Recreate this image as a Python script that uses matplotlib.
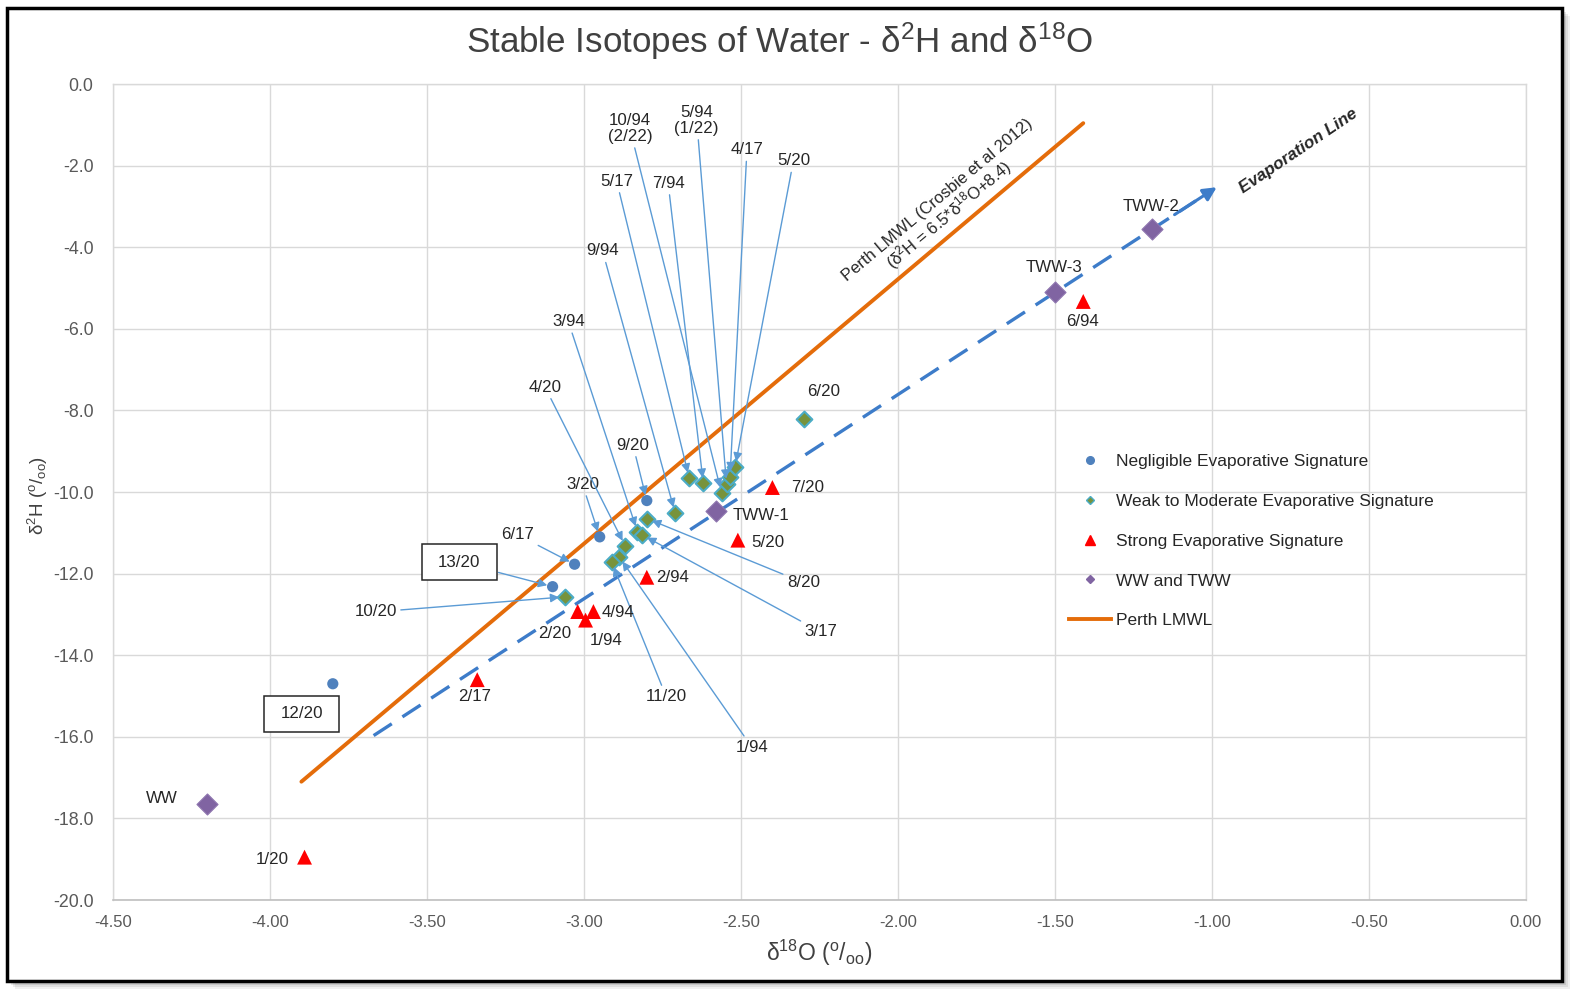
import matplotlib
matplotlib.use('Agg')
import matplotlib.pyplot as plt
from matplotlib.patches import Rectangle
from matplotlib.lines import Line2D
from matplotlib.path import Path

plt.rcParams['font.family'] = ['Liberation Sans', 'DejaVu Sans']
plt.rcParams['mathtext.fontset'] = 'custom'
plt.rcParams['mathtext.rm'] = 'Liberation Sans'
plt.rcParams['mathtext.it'] = 'Liberation Sans:italic'
plt.rcParams['mathtext.bf'] = 'Liberation Sans:bold'

# ---------------- data ----------------
neg_x = [-3.80, -3.03, -3.10, -2.95, -2.80]
neg_y = [-14.70, -11.77, -12.32, -11.10, -10.21]
neg_labels = ['12/20', '6/17', '13/20', '3/20', '9/20']

weak_x = [-2.30, -2.665, -2.62, -2.562, -2.546, -2.535, -2.519, -2.71, -2.80,
          -2.83, -2.815, -2.869, -2.888, -2.912, -3.061]
weak_y = [-8.20, -9.66, -9.79, -10.02, -9.81, -9.63, -9.39, -10.51, -10.65,
          -10.97, -11.05, -11.32, -11.59, -11.71, -12.57]
weak_labels = ['6/20', '5/17', '7/94', '10/94\n(2/22)', '5/94\n(1/22)', '4/17', '5/20',
               '9/94', '8/20', '3/94', '3/17', '4/20', '1/94', '11/20', '10/20']

strong_x = [-3.89, -3.34, -3.02, -2.97, -2.995, -2.80, -2.51, -2.40, -1.41]
strong_y = [-18.95, -14.60, -12.93, -12.93, -13.14, -12.09, -11.18, -9.89, -5.33]
strong_labels = ['1/20', '2/17', '2/20', '4/94', '1/94', '2/94', '5/20', '7/20', '6/94']

ww_x = [-4.20, -2.58, -1.50, -1.19]
ww_y = [-17.65, -10.47, -5.11, -3.55]
ww_labels = ['WW', 'TWW-1', 'TWW-3', 'TWW-2']

lmwl_x = [-3.90, -1.41]
lmwl_y = [-17.10, -0.96]

evap_x = [-3.67, -0.985]
evap_y = [-15.97, -2.53]

x_ticks = [-4.5, -4.0, -3.5, -3.0, -2.5, -2.0, -1.5, -1.0, -0.5, 0.0]
y_ticks = [0.0, -2.0, -4.0, -6.0, -8.0, -10.0, -12.0, -14.0, -16.0, -18.0, -20.0]

# ---------------- label layout (text positions, arrow flag, boxed flag) ----------------
neg_text = [(-3.899, -15.44, False, True), (-3.211, -11.05, True, False),
            (-3.397, -11.72, True, True), (-3.005, -9.81, True, False),
            (-2.844, -8.85, True, False)]
weak_text = [(-2.236, -7.53, False), (-2.896, -2.38, True), (-2.732, -2.43, True),
             (-2.854, -1.09, True), (-2.641, -0.89, True), (-2.481, -1.61, True),
             (-2.333, -1.88, True), (-2.941, -4.09, True), (-2.301, -12.22, True),
             (-3.050, -5.82, True), (-2.246, -13.43, True), (-3.124, -7.43, True),
             (-2.465, -16.26, True), (-2.738, -15.02, True), (-3.664, -12.94, True)]
strong_text = [(-3.992, -19.01), (-3.349, -15.02), (-3.092, -13.46), (-2.892, -12.96),
               (-2.931, -13.63), (-2.719, -12.09), (-2.416, -11.23), (-2.288, -9.89),
               (-1.413, -5.82)]
ww_text = [(-4.346, -17.52), (-2.436, -10.58), (-1.503, -4.49), (-1.195, -3.00)]

# ---------------- colours ----------------
C_NEG = '#4f81bd'
C_WEAK = '#77933c'
C_WEAK_EDGE = '#4bacc6'
C_STRONG = '#ff0000'
C_WW = '#8064a2'
C_LMWL = '#e46c0a'
C_EVAP = '#3d7cc9'
C_ARROW = '#5b9bd5'
C_TEXT = '#262626'
C_TICK = '#595959'
C_GRID = '#d9d9d9'


def wide_box(x0, y0, width, height, mutation_size):
    """Rectangular box with more horizontal than vertical padding."""
    px = 0.95 * mutation_size
    py = 0.62 * mutation_size
    xa, ya, xb, yb = x0 - px, y0 - py, x0 + width + px, y0 + height + py
    return Path([(xa, ya), (xb, ya), (xb, yb), (xa, yb), (xa, ya)],
                [Path.MOVETO, Path.LINETO, Path.LINETO, Path.LINETO, Path.CLOSEPOLY])


W, H = 1584, 1005
fig = plt.figure(figsize=(W / 100, H / 100), dpi=100)
fig.patch.set_facecolor('white')

# border + shadow
for i, a in enumerate([0.06, 0.08, 0.10, 0.12]):
    off = 8 - 2 * i
    fig.patches.append(Rectangle(((7 + off) / W, 1 - (981 + off) / H), (1555) / W, (973) / H,
                                 transform=fig.transFigure, facecolor='black', edgecolor='none',
                                 alpha=a, zorder=-20))
fig.patches.append(Rectangle((7 / W, 1 - 981 / H), 1555 / W, 973 / H, transform=fig.transFigure,
                             facecolor='white', edgecolor='black', linewidth=2.5, zorder=-10))

ax = fig.add_axes([113 / W, 1 - 900 / H, (1526 - 113) / W, (900 - 84) / H])
ax.set_facecolor('none')
ax.set_xlim(-4.5, 0.0)
ax.set_ylim(-20.0, 0.0)
ax.set_xticks(x_ticks)
ax.set_yticks(y_ticks)
ax.set_xticklabels([f'{v:.2f}' for v in x_ticks])
ax.set_yticklabels([f'{v:.1f}' for v in y_ticks])
ax.tick_params(length=0, labelcolor=C_TICK)
ax.tick_params(axis='x', pad=11, labelsize=12)
ax.tick_params(axis='y', pad=14, labelsize=12.8)
ax.grid(True, color=C_GRID, linewidth=1.0, zorder=0)
ax.set_axisbelow(True)
for s in ['top', 'right', 'left']:
    ax.spines[s].set_color(C_GRID)
    ax.spines[s].set_linewidth(1.0)
ax.spines['bottom'].set_color('#bfbfbf')
ax.spines['bottom'].set_linewidth(1.2)

# lines
ax.plot(lmwl_x, lmwl_y, color=C_LMWL, lw=2.8, solid_capstyle='round', zorder=2)
ex0, ey0, ex1, ey1 = evap_x[0], evap_y[0], evap_x[1], evap_y[1]
t = 0.975
ax.plot([ex0, ex0 + t * (ex1 - ex0)], [ey0, ey0 + t * (ey1 - ey0)], color=C_EVAP, lw=2.4,
        dashes=(6.5, 3.8), zorder=2)
ts = 0.95
ax.annotate('', xy=(ex1, ey1), xytext=(ex0 + ts * (ex1 - ex0), ey0 + ts * (ey1 - ey0)),
            arrowprops=dict(arrowstyle='-|>', color=C_EVAP, lw=2.2, mutation_scale=20,
                            shrinkA=0, shrinkB=0), zorder=3)

# markers
ax.scatter(neg_x, neg_y, s=65, color=C_NEG, edgecolors='none', zorder=5)
ax.scatter(weak_x, weak_y, s=64, marker='D', color=C_WEAK, edgecolors=C_WEAK_EDGE,
           linewidths=1.5, zorder=5)
ax.scatter(strong_x, strong_y, s=115, marker='^', color=C_STRONG, edgecolors='none', zorder=5)
ax.scatter(ww_x, ww_y, s=115, marker='D', color=C_WW, edgecolors='#8f76b0', linewidths=0.8,
           zorder=5)

FS = 12.2
arrowp = dict(arrowstyle='-|>', color=C_ARROW, lw=1.0, mutation_scale=13, shrinkA=1, shrinkB=4)

for (x, y, lab, (tx, ty, arrow, boxed)) in zip(neg_x, neg_y, neg_labels, neg_text):
    kw = {}
    if boxed:
        kw['bbox'] = dict(boxstyle=wide_box, facecolor='white', edgecolor='#262626',
                          linewidth=1.1)
    ax.annotate(lab, xy=(x, y), xytext=(tx, ty), ha='center', va='center', fontsize=FS,
                color=C_TEXT, arrowprops=arrowp if arrow else None, zorder=6, **kw)

for (x, y, lab, (tx, ty, arrow)) in zip(weak_x, weak_y, weak_labels, weak_text):
    ax.annotate(lab, xy=(x, y), xytext=(tx, ty), ha='center', va='center', fontsize=FS,
                color=C_TEXT, multialignment='center', linespacing=1.05,
                arrowprops=arrowp if arrow else None, zorder=6)

for (lab, (tx, ty)) in zip(strong_labels, strong_text):
    ax.text(tx, ty, lab, ha='center', va='center', fontsize=FS, color=C_TEXT, zorder=6)

for (lab, (tx, ty)) in zip(ww_labels, ww_text):
    ax.text(tx, ty, lab, ha='center', va='center', fontsize=FS, color=C_TEXT, zorder=6)

# line annotations
ax.text(-1.852, -3.05, 'Perth LMWL (Crosbie et al 2012)\n(δ$^{\\mathregular{2}}$H = 6.5*δ$^{\\mathregular{18}}$O+8.4)',
        rotation=40, rotation_mode='anchor', ha='center', va='center', multialignment='center',
        fontsize=12, color=C_TEXT, linespacing=1.0)
ax.text(-0.726, -1.65, 'Evaporation Line', rotation=34, rotation_mode='anchor', ha='center',
        va='center', fontsize=12.3, fontweight='bold', fontstyle='italic', color=C_TEXT)

# title and axis labels
fig.text(780 / W, 1 - 41 / H, 'Stable Isotopes of Water - δ$^{\\mathregular{2}}$H and δ$^{\\mathregular{18}}$O',
         ha='center', va='center', fontsize=25.2, color='#404040')
ax.set_xlabel('δ$^{\\mathregular{18}}$O ($^{\\mathregular{o}}$/$_{\\mathregular{oo}}$)', fontsize=16.5,
              color='#404040', va='center')
ax.xaxis.set_label_coords(0.5, -0.0643)
ax.set_ylabel('δ$^{\\mathregular{2}}$H ($^{\\mathregular{o}}$/$_{\\mathregular{oo}}$)', fontsize=13.5,
              color='#404040', va='center')
ax.yaxis.set_label_coords(-0.0528, 0.496)

# legend
handles = [
    Line2D([], [], ls='', marker='o', color=C_NEG, markersize=5.5),
    Line2D([], [], ls='', marker='D', mfc=C_WEAK, mec=C_WEAK_EDGE, mew=1.0, markersize=4.5),
    Line2D([], [], ls='', marker='^', color=C_STRONG, markersize=6.5),
    Line2D([], [], ls='', marker='D', color=C_WW, markersize=4.5),
    Line2D([], [], color=C_LMWL, lw=2.8),
]
labels = ['Negligible Evaporative Signature', 'Weak to Moderate Evaporative Signature',
          'Strong Evaporative Signature', 'WW and TWW', 'Perth LMWL']
ax.legend(handles, labels, loc='upper left', bbox_to_anchor=(1069 / W, 1 - 454 / H),
          bbox_transform=fig.transFigure, frameon=False, fontsize=12.5, borderpad=0,
          borderaxespad=0, handlelength=2.4, handletextpad=0.3, labelspacing=1.42,
          labelcolor=C_TEXT)

fig.savefig('out.png', dpi=100, facecolor='white')
